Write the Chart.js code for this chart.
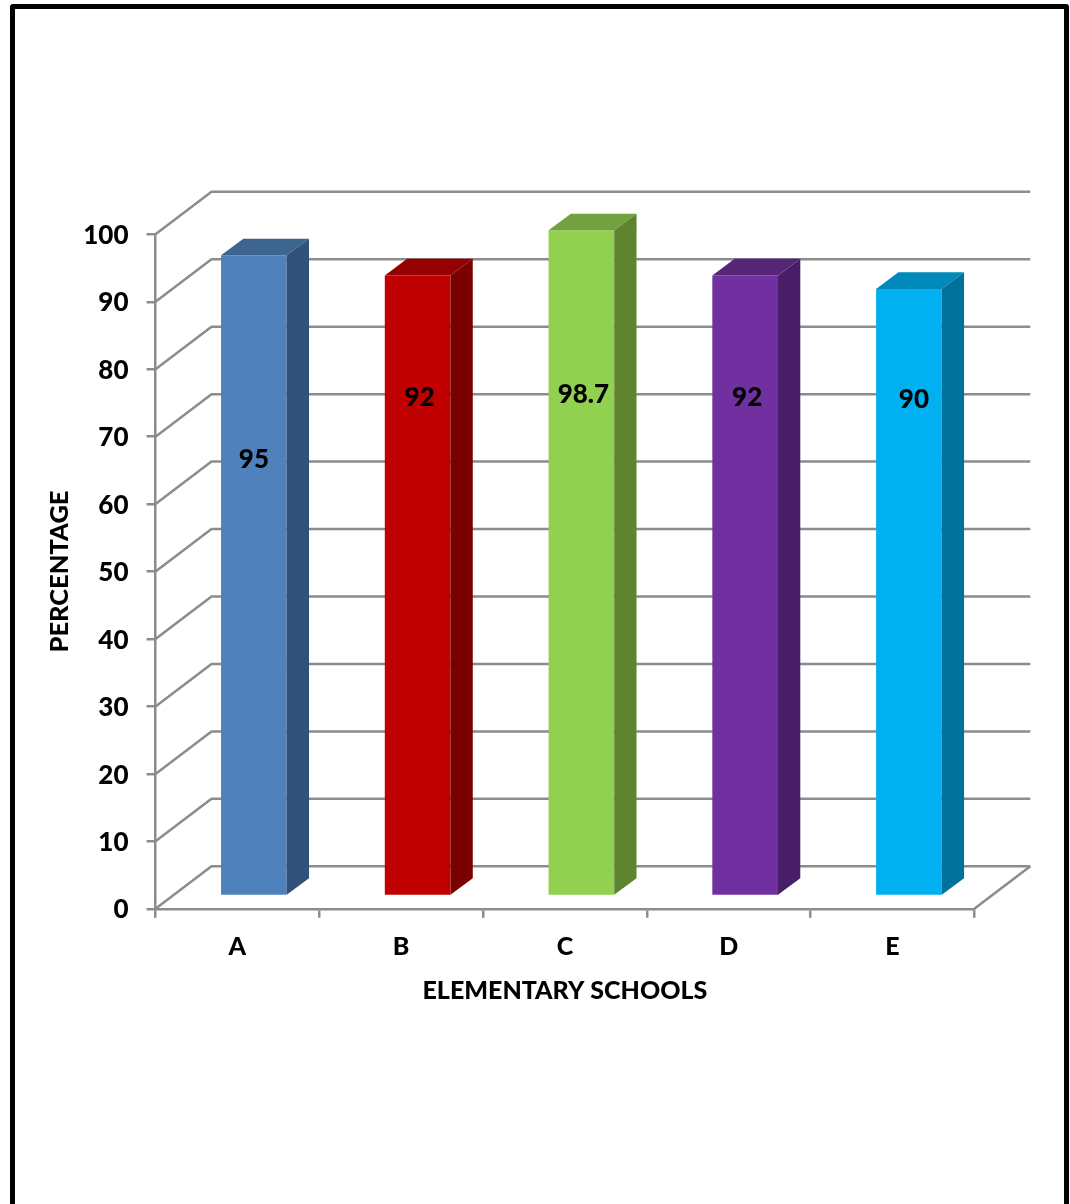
<!DOCTYPE html>
<html>
<head>
<meta charset="utf-8">
<title>Elementary schools</title>
<style>
  html, body { margin: 0; padding: 0; background: #fff; overflow: hidden; width: 1070px; height: 1204px; }
  canvas { position: absolute; left: 0; top: 0; }
  /* black frame, runs off the bottom of the page */
  #frame { position: absolute; left: 9.5px; top: 4px; width: 1059.2px; height: 1300px; box-sizing: border-box; border: 5.5px solid #000; border-radius: 3px; }
</style>
<script src="https://cdn.jsdelivr.net/npm/chart.js"></script>
</head>
<body>
<canvas id="chart" width="1070" height="1204"></canvas>
<div id="frame"></div>
<script>
const schools = ["A", "B", "C", "D", "E"];
const percentages = [95, 92, 98.7, 92, 90];

const frontColors = ["#4f81bd", "#c00000", "#92d050", "#7030a0", "#00b0f0"];
const topColors = ["#3e6590", "#960000", "#72a23e", "#572578", "#0089bb"];
const sideColors = ["#30527a", "#7b0000", "#5f8430", "#481f66", "#00719a"];

const GRID_COLOR = "#8c8c8c";
const FONT = { family: "Lato", weight: "900", size: 25 };
const NUMBER_FONT = { family: "Lato", weight: "900", size: 26 };

// fake 3d: how far the back wall and the bar depth are pushed
const WALL_DX = 56;
const WALL_DY = 42.5;
const BAR_DX = 22.3;
const BAR_DY = 16.7;
const BAR_SHIFT_X = 16.5;
const BAR_SHIFT_Y = 12.7;

// walls and floor, behind the bars
const wallsPlugin = {
  id: "walls",
  beforeDatasetsDraw(chart) {
    const { ctx, scales: { x, y } } = chart;
    const left = x.left;
    const right = x.right;
    ctx.save();
    ctx.strokeStyle = GRID_COLOR;
    ctx.lineWidth = 2.5;
    ctx.lineJoin = "round";
    y.ticks.forEach((tick) => {
      const py = y.getPixelForValue(tick.value);
      ctx.beginPath();
      ctx.moveTo(left, py);
      ctx.lineTo(left + WALL_DX, py - WALL_DY);
      ctx.lineTo(right + WALL_DX, py - WALL_DY);
      ctx.stroke();
    });
    // right edge of the floor
    const floor = y.getPixelForValue(0);
    ctx.beginPath();
    ctx.moveTo(right, floor);
    ctx.lineTo(right + WALL_DX, floor - WALL_DY);
    ctx.stroke();
    ctx.restore();
  },
};

// moves the bars back from the axis, then adds their top and side faces
const depthPlugin = {
  id: "depth",
  beforeDatasetsDraw(chart) {
    chart.ctx.save();
    chart.ctx.translate(BAR_SHIFT_X, -BAR_SHIFT_Y);
  },
  afterDatasetsDraw(chart) {
    const { ctx } = chart;
    chart.getDatasetMeta(0).data.forEach((bar, i) => {
      const l = bar.x - bar.width / 2;
      const r = bar.x + bar.width / 2;
      ctx.fillStyle = topColors[i];
      ctx.beginPath();
      ctx.moveTo(l, bar.y);
      ctx.lineTo(l + BAR_DX, bar.y - BAR_DY);
      ctx.lineTo(r + BAR_DX, bar.y - BAR_DY);
      ctx.lineTo(r, bar.y);
      ctx.closePath();
      ctx.fill();
      ctx.fillStyle = sideColors[i];
      ctx.beginPath();
      ctx.moveTo(r, bar.y);
      ctx.lineTo(r + BAR_DX, bar.y - BAR_DY);
      ctx.lineTo(r + BAR_DX, bar.base - BAR_DY);
      ctx.lineTo(r, bar.base);
      ctx.closePath();
      ctx.fill();
    });
    ctx.restore();
  },
};

// value printed on each bar, hand placed like the usual office chart
const valueLabelPlugin = {
  id: "valueLabels",
  afterDraw(chart, args, opts) {
    const { ctx, scales: { y } } = chart;
    ctx.save();
    ctx.font = `${NUMBER_FONT.weight} ${NUMBER_FONT.size}px ${NUMBER_FONT.family}`;
    ctx.fillStyle = "#000";
    ctx.textAlign = "center";
    ctx.textBaseline = "middle";
    chart.getDatasetMeta(0).data.forEach((bar, i) => {
      const px = bar.x + BAR_SHIFT_X + opts.nudgeX[i];
      ctx.fillText(String(percentages[i]), px, y.getPixelForValue(opts.atValue[i]));
    });
    ctx.restore();
  },
};

new Chart(document.getElementById("chart"), {
  type: "bar",
  data: {
    labels: schools,
    datasets: [
      {
        data: percentages,
        backgroundColor: frontColors,
        categoryPercentage: 1,
        barPercentage: 0.401,
      },
    ],
  },
  options: {
    responsive: false,
    animation: false,
    layout: { padding: { left: 44, top: 234.3, right: 95.7, bottom: 198 } },
    plugins: {
      legend: { display: false },
      tooltip: { enabled: false },
      valueLabels: {
        atValue: [66.6, 75.85, 76.3, 75.85, 75.5],
        nudgeX: [0, 2, 2, 2, 5],
      },
    },
    scales: {
      x: {
        afterFit(scale) { scale.height = 97.2; },
        border: { color: GRID_COLOR, width: 2.5 },
        grid: { color: GRID_COLOR, lineWidth: 2.5, drawOnChartArea: false, tickLength: 9 },
        ticks: { color: "#000", font: FONT, padding: 14, autoSkip: false, maxRotation: 0 },
        title: { display: true, text: "ELEMENTARY SCHOOLS", color: "#000", font: FONT, padding: 0 },
      },
      y: {
        min: 0,
        max: 100,
        afterFit(scale) { scale.width = 111.5; },
        border: { color: GRID_COLOR, width: 2.5 },
        grid: { color: GRID_COLOR, lineWidth: 2.5, drawOnChartArea: false, tickLength: 9 },
        ticks: { color: "#000", font: NUMBER_FONT, stepSize: 10, padding: 18, labelOffset: 1.3 },
        title: { display: true, text: "PERCENTAGE", color: "#000", font: { ...FONT, size: 25.5 }, padding: 0 },
      },
    },
  },
  plugins: [wallsPlugin, depthPlugin, valueLabelPlugin],
});
</script>
</body>
</html>
